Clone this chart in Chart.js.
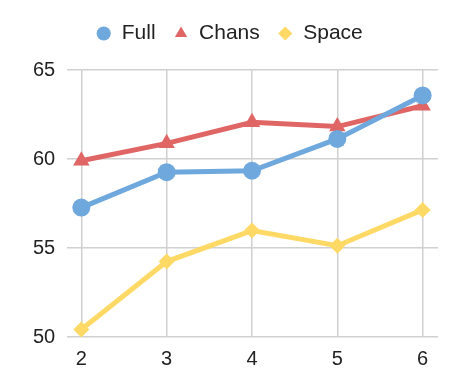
<!DOCTYPE html>
<html>
<head>
<meta charset="utf-8">
<script src="https://cdn.jsdelivr.net/npm/chart.js@4/dist/chart.umd.min.js"></script>
<style>
html,body{margin:0;padding:0;background:#fff;}
#wrap{width:458px;height:391px;position:relative;}
</style>
</head>
<body>
<div id="wrap"><canvas id="c" width="458" height="391"></canvas></div>
<script>
const categories = [2, 3, 4, 5, 6];
const fullValues = [57.27, 59.26, 59.34, 61.13, 63.57];
const chansValues = [59.9, 60.88, 62.06, 61.82, 62.99];
const spaceValues = [50.42, 54.24, 55.98, 55.13, 57.14];
const yTicks = [50, 55, 60, 65];

const toPts = (vals) => vals.map((v, i) => ({x: categories[i], y: v}));

Chart.defaults.font.family = "'Liberation Sans', Arial, sans-serif";
Chart.defaults.color = '#222';

const legendSpacer = {
  id: 'legendSpacer',
  beforeInit(chart) {
    const orig = chart.legend.fit;
    chart.legend.fit = function () { orig.call(this); this.height += 16; };
  }
};

new Chart(document.getElementById('c'), {
  type: 'line',
  plugins: [legendSpacer],
  data: {
    datasets: [
      {label: 'Full', data: toPts(fullValues), borderColor: '#6FA8DC', backgroundColor: '#6FA8DC',
       borderWidth: 5, pointStyle: 'circle', pointRadius: 9, pointBorderWidth: 0},
      {label: 'Chans', data: toPts(chansValues), borderColor: '#E06666', backgroundColor: '#E06666',
       borderWidth: 5, pointStyle: 'triangle', pointRadius: 9.5, pointBorderWidth: 0},
      {label: 'Space', data: toPts(spaceValues), borderColor: '#FFD966', backgroundColor: '#FFD966',
       borderWidth: 5, pointStyle: 'rectRot', pointRadius: 8, pointBorderWidth: 0}
    ]
  },
  options: {
    responsive: false,
    animation: false,
    layout: {padding: {left: 21, right: 20, top: 5, bottom: 10}},
    plugins: {
      legend: {
        position: 'top',
        labels: {usePointStyle: true, boxWidth: 15, boxHeight: 10, padding: 18,
                 font: {size: 21}, color: '#222'}
      },
      tooltip: {enabled: false}
    },
    scales: {
      x: {
        type: 'linear', min: 1.835, max: 6.18,
        afterBuildTicks: (axis) => { axis.ticks = categories.map(v => ({value: v})); },
        ticks: {font: {size: 20}, padding: 10, color: '#222'},
        grid: {color: '#d0d0d0', lineWidth: 1.5, drawTicks: false},
        border: {display: false}
      },
      y: {
        min: 50, max: 65,
        afterBuildTicks: (axis) => { axis.ticks = yTicks.map(v => ({value: v})); },
        ticks: {font: {size: 20}, padding: 12, color: '#222'},
        grid: {color: '#d0d0d0', lineWidth: 1.5, drawTicks: false},
        border: {display: false}
      }
    }
  }
});
</script>
</body>
</html>
